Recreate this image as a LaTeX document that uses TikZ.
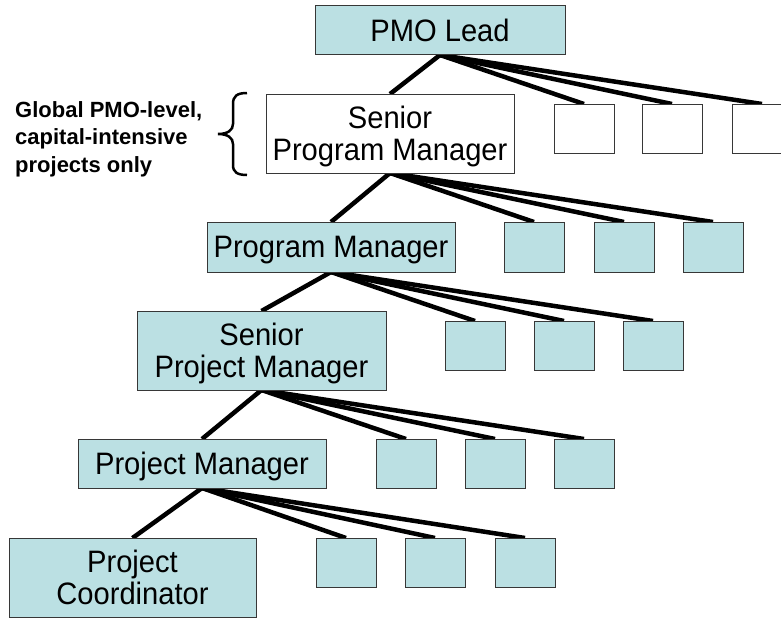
\documentclass[tikz,border=0pt]{standalone}
\usepackage{fontspec}
\setmainfont{Liberation Sans}
\newfontfamily\boxfont{Liberation Sans}[FakeStretch=0.94]
\usetikzlibrary{backgrounds}
\definecolor{boxfill}{RGB}{187,224,227}
\definecolor{boxline}{RGB}{55,55,55}
\begin{document}
\begin{tikzpicture}[x=1pt,y=-1pt,
  box/.style={draw=boxline, line width=1pt, fill=boxfill, inner sep=0pt, outer sep=0pt,
    anchor=north west, align=center, text depth=0pt, font=\boxfont\fontsize{31}{32}\selectfont},
  wbox/.style={box, fill=white},
  sq/.style={box, minimum width=60pt, minimum height=49pt},
  wsq/.style={sq, fill=white},
  link/.style={line width=4.5pt, black},
  bracestyle/.style={line width=2.5pt, black},
  note/.style={anchor=north west, align=left, inner sep=0pt,
    font=\bfseries\fontsize{22}{27.5}\selectfont}]
\useasboundingbox (0,0) rectangle (781,618);
% main chain
\node[box, minimum width=250pt, minimum height=49pt] (pmo) at (315,6) {PMO Lead};
\node[wbox, minimum width=248pt, minimum height=79pt] (spm) at (266,94) {Senior\\Program Manager};
\node[box, minimum width=248pt, minimum height=50pt] (pm) at (207,222) {Program Manager};
\node[box, minimum width=249pt, minimum height=79pt] (spjm) at (137,311) {Senior\\Project Manager};
\node[box, minimum width=248pt, minimum height=49pt] (pjm) at (78,439) {Project Manager};
\node[box, minimum width=247pt, minimum height=79pt] (pc) at (9,538) {Project\\Coordinator};
% small boxes
\node[wsq] (s1a) at (554,104) {};
\node[wsq] (s1b) at (642,104) {};
\node[wsq] (s1c) at (732,104) {};
\node[sq, minimum height=50pt] (s2a) at (504,222) {};
\node[sq, minimum height=50pt] (s2b) at (594,222) {};
\node[sq, minimum height=50pt] (s2c) at (683,222) {};
\node[sq] (s3a) at (445,321) {};
\node[sq] (s3b) at (534,321) {};
\node[sq] (s3c) at (623,321) {};
\node[sq] (s4a) at (376,439) {};
\node[sq] (s4b) at (465,439) {};
\node[sq] (s4c) at (554,439) {};
\node[sq] (s5a) at (316,538) {};
\node[sq] (s5b) at (405,538) {};
\node[sq] (s5c) at (495,538) {};
% note and brace
\node[note] (lbl) at (15,101) {Global PMO-level,\\capital-intensive\\projects only};
\draw[bracestyle] (247,93) .. controls (237,93) and (233,96) .. (233,104) -- (233,124)
  .. controls (233,130) and (228,134) .. (218,134)
  .. controls (228,134) and (233,138) .. (233,144) -- (233,165)
  .. controls (233,172) and (237,175) .. (247,175);
% connectors
\begin{scope}[on background layer]
\foreach \p/\c in {pmo/spm, pmo/s1a, pmo/s1b, pmo/s1c,
                   spm/pm, spm/s2a, spm/s2b, spm/s2c,
                   pm/spjm, pm/s3a, pm/s3b, pm/s3c,
                   spjm/pjm, spjm/s4a, spjm/s4b, spjm/s4c,
                   pjm/pc, pjm/s5a, pjm/s5b, pjm/s5c}
  \draw[link] (\p.south) -- (\c.north);
\end{scope}
\end{tikzpicture}
\end{document}
